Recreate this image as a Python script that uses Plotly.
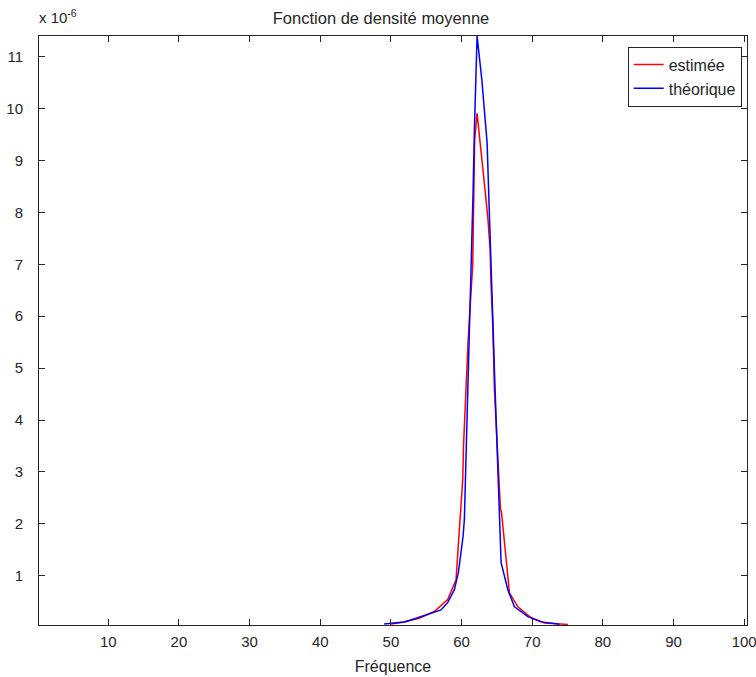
import plotly.graph_objects as go

# Frequencies and densities (in units of 1e-6)
freq_est = [50.0, 51.89, 54.0, 56.14, 58.04, 59.22, 59.69, 60.17, 60.28, 60.43, 60.57,
            60.71, 60.92, 61.13, 61.28, 61.59, 61.67, 61.82, 61.86, 62.2, 62.53, 63.0,
            63.33, 63.72, 64.04, 64.18, 64.43, 64.65, 65.04, 65.5, 65.67, 66.31, 66.78,
            67.97, 69.86, 71.74, 73.65, 75.06]
dens_est = [0.07, 0.11, 0.18, 0.31, 0.54, 0.92, 1.89, 2.85, 3.5, 4.0, 4.5,
            5.0, 5.5, 6.0, 6.3, 7.0, 7.8, 8.7, 9.4, 9.91, 9.5, 8.96,
            8.43, 7.9, 7.3, 6.6, 5.8, 4.6, 3.4, 2.3, 2.2, 1.25, 0.67,
            0.4, 0.19, 0.09, 0.07, 0.06]

freq_th = [49.05, 51.89, 53.79, 56.14, 57.09, 58.04, 58.98, 59.55, 59.93, 60.21, 60.40,
           60.50, 60.68, 60.88, 61.06, 61.25, 61.45, 61.63, 61.82, 62.06, 62.2, 62.87,
           63.62, 64.0, 64.18, 64.43, 64.65, 64.89, 65.13, 65.36, 65.6, 66.55, 67.49,
           69.39, 71.28, 73.65, 73.87]
dens_th = [0.07, 0.11, 0.19, 0.29, 0.34, 0.48, 0.73, 1.06, 1.44, 1.75, 2.08,
           2.6, 3.43, 4.33, 5.16, 6.0, 7.22, 8.38, 9.59, 10.75, 11.4, 10.56,
           9.34, 7.72, 6.75, 5.93, 4.97, 4.0, 3.04, 2.1, 1.25, 0.73, 0.4,
           0.21, 0.11, 0.07, 0.06]

x_ticks = [10, 20, 30, 40, 50, 60, 70, 80, 90, 100]
y_ticks = [1, 2, 3, 4, 5, 6, 7, 8, 9, 10, 11]

FONT = "Liberation Sans, Arial, Helvetica, sans-serif"

fig = go.Figure()
fig.add_trace(go.Scatter(x=freq_est, y=dens_est, mode="lines", name="estimée",
                         line=dict(color="#ff0000", width=1.5)))
fig.add_trace(go.Scatter(x=freq_th, y=dens_th, mode="lines", name="théorique",
                         line=dict(color="#0000ff", width=1.5)))

axis_common = dict(showline=True, linecolor="#262626", linewidth=1, mirror="ticks",
                   ticks="inside", ticklen=6, tickcolor="#262626", showgrid=False,
                   zeroline=False, automargin=False, ticklabeloverflow="allow",
                   tickfont=dict(family=FONT, size=15, color="#262626"))

fig.update_xaxes(range=[0.2, 100.4], tickvals=x_ticks, ticktext=[str(v) for v in x_ticks],
                 title=dict(text="Fréquence", font=dict(family=FONT, size=16, color="#262626"),
                            standoff=11),
                 ticklabelstandoff=3, **axis_common)
fig.update_yaxes(range=[0.05, 11.4], tickvals=y_ticks, ticktext=[str(v) for v in y_ticks],
                 ticklabelstandoff=12, **axis_common)

fig.add_annotation(xref="paper", yref="paper", x=-0.003, y=1, xanchor="left", yanchor="bottom",
                   yshift=8, showarrow=False, text="x 10<sup>-6</sup>",
                   font=dict(family=FONT, size=15, color="#262626"))

fig.update_layout(
    width=756, height=677,
    margin=dict(l=39, r=9, t=36, b=52, autoexpand=False),
    paper_bgcolor="white", plot_bgcolor="white",
    title=dict(text="Fonction de densité moyenne", x=0.504, xanchor="center", y=0.973,
               yanchor="middle", font=dict(family=FONT, size=16.5, color="#262626")),
    legend=dict(x=0.9925, y=0.982, xanchor="right", yanchor="top",
                bordercolor="#262626", borderwidth=1, bgcolor="white",
                font=dict(family=FONT, size=16, color="#262626"),
                tracegroupgap=0, itemwidth=30),
    showlegend=True,
)

fig.write_html("out.html", config={"displayModeBar": False},
               post_script="document.body.style.margin='0';")
